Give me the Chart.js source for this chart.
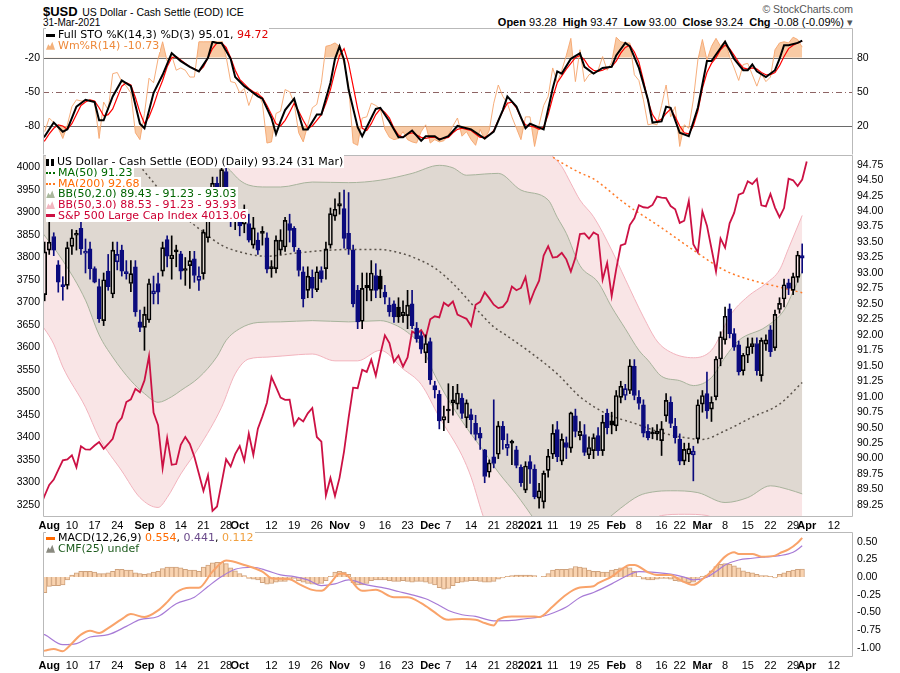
<!DOCTYPE html>
<html>
<head>
<meta charset="utf-8">
<title>$USD</title>
<script src="https://cdn.jsdelivr.net/npm/chart.js@4.4.1/dist/chart.umd.min.js"></script>
<style>
  body { margin:0; width:900px; height:673px; overflow:hidden; position:relative; background:#fff;
         font-family:"Liberation Sans", Arial, sans-serif; color:#000; }
  canvas { position:absolute; left:0; }
  .txt { position:absolute; white-space:nowrap; }
  .leg { position:absolute; left:46px; font-family:"DejaVu Sans", Verdana, sans-serif; font-size:11px; line-height:10.8px; white-space:nowrap; }
  .leg > div > span { background:#fff; padding-right:1px; }
  .ic { display:inline-block; width:9px; margin-right:3px; vertical-align:middle; }
  .bar { height:3px; }
  .dots { height:0; border-top:2px dotted; }
  .mtn { height:8px; clip-path:polygon(0 100%,25% 30%,45% 60%,70% 0,100% 100%); }
</style>
</head>
<body>

<div class="txt" style="left:43px;top:2px;"><b style="font-size:13px">$USD</b> <span style="font-size:10.5px">US Dollar - Cash Settle (EOD) ICE</span></div>
<div class="txt" style="left:43px;top:17px;font-size:10px;">31-Mar-2021</div>
<div class="txt" style="right:47px;top:3px;font-size:10.5px;color:#555;">© StockCharts.com</div>
<div class="txt" style="right:47px;top:16px;font-size:11px;"><b>Open</b> 93.28 &nbsp;<b>High</b> 93.47 &nbsp;<b>Low</b> 93.00 &nbsp;<b>Close</b> 93.24 &nbsp;<b>Chg</b> -0.08 (-0.09%) <span style="color:#555">▾</span></div>

<canvas id="sto" width="900" height="127" style="top:28px;width:900px;height:127px"></canvas>
<canvas id="main" width="900" height="377" style="top:155px;width:900px;height:377px"></canvas>
<canvas id="macd" width="900" height="141" style="top:532px;width:900px;height:141px"></canvas>

<div class="leg" style="top:30px;">
  <div><span><i class="ic bar" style="background:#000"></i>Full STO %K(14,3) %D(3) 95.01, <span style="color:#e00000">94.72</span></span></div>
  <div><span style="color:#ee8a3c"><i class="ic mtn" style="background:#f4b27c"></i>Wm%R(14) -10.73</span></div>
</div>

<div class="leg" style="top:157px;">
  <div><span><i class="ic" style="height:7px;width:2px;border-left:3px solid #000;border-right:3px solid #000;"></i>US Dollar - Cash Settle (EOD) (Daily) 93.24 (31 Mar)</span></div>
  <div><span style="color:#006a00"><i class="ic dots" style="border-color:#006a00"></i>MA(50) 91.23</span></div>
  <div><span style="color:#ff6a00"><i class="ic dots" style="border-color:#ff7a20"></i>MA(200) 92.68</span></div>
  <div><span style="color:#006400"><i class="ic mtn" style="background:#a9b89c"></i>BB(50,2.0) 89.43 - 91.23 - 93.03</span></div>
  <div><span style="color:#cc0033"><i class="ic mtn" style="background:#f2b5bf"></i>BB(50,3.0) 88.53 - 91.23 - 93.93</span></div>
  <div><span style="color:#cc0033"><i class="ic bar" style="background:#cc1144"></i>S&amp;P 500 Large Cap Index 4013.06</span></div>
</div>

<div class="leg" style="top:533px;">
  <div><span><i class="ic bar" style="background:#ff6a00"></i>MACD(12,26,9) <span style="color:#ff6a00">0.554</span>, <span style="color:#6a4a8a">0.441</span>, <span style="color:#f0a040">0.112</span></span></div>
  <div><span style="color:#1d5b1d"><i class="ic mtn" style="background:#8a8a80"></i>CMF(25) undef</span></div>
</div>

<script>
// x = trading day number: 0 = 3 Aug 2020 ... 166 = 31 Mar 2021
const tickPos = [0,5,10,15,21,25,29,34,39,42,49,54,59,64,69,74,79,84,88,93,98,102,106,111,116,120,125,130,135,139,144,149,154,159,164,167,173]
const tickLabels = ['Aug','10','17','24','Sep','8','14','21','28','Oct','12','19','26','Nov','9','16','23','Dec','7','14','21','28','2021','11','19','25','Feb','8','16','22','Mar','8','15','22','29','Apr','12']

const usdTicks = [89.25,89.5,89.75,90,90.25,90.5,90.75,91,91.25,91.5,91.75,92,92.25,92.5,92.75,93,93.25,93.5,93.75,94,94.25,94.5,94.75]
const spxTicks = [3250,3300,3350,3400,3450,3500,3550,3600,3650,3700,3750,3800,3850,3900,3950,4000]
const stoTicks = [20,50,80]
const wmTicks = [-80,-50,-20]
const macdTicks = [-1,-0.75,-0.5,-0.25,0,0.25,0.5]

// $USD daily candles, first value is day -1 (31 Jul)
const usdOpen = [
  92.65,93.37,93.59,93.13,92.80,92.80,93.43,93.61,93.72,93.32,
  93.39,93.07,92.78,92.23,93.03,92.66,93.18,93.37,93.02,92.83,
  93.10,92.21,92.12,92.24,92.66,92.83,93.03,93.54,93.23,93.34,
  93.31,93.07,93.12,93.23,92.88,92.99,93.57,94.02,94.45,94.34,
  94.64,94.18,93.89,93.88,93.79,93.80,93.45,93.53,93.66,93.57,
  93.10,93.07,93.37,93.42,93.80,93.72,93.37,93.02,92.72,92.93,
  92.73,93.04,93.07,93.45,93.92,94.08,94.04,93.64,93.37,92.72,
  92.22,92.80,92.72,92.96,92.95,92.69,92.48,92.50,92.45,92.31,
  92.31,92.50,92.11,91.99,91.71,91.89,91.18,91.04,90.62,90.77,
  90.90,90.88,90.98,90.66,90.71,90.57,90.41,90.14,89.78,90.03,
  90.07,90.52,90.17,90.25,90.14,89.86,89.49,89.95,89.83,89.36,
  89.30,89.81,90.07,90.47,89.96,90.26,90.17,90.69,90.37,90.39,
  90.06,90.13,90.37,90.13,90.73,90.61,90.53,90.99,91.02,91.10,
  91.49,90.99,90.87,90.44,90.41,90.40,90.29,90.69,90.91,90.52,
  90.31,89.96,90.07,90.06,90.32,90.88,91.05,90.80,91.00,91.61,
  91.92,92.42,92.02,91.84,91.42,91.67,91.81,91.86,91.34,91.85,
  92.08,91.79,92.41,92.58,92.84,92.72,92.93,93.28]
const usdHigh = [
  93.50,93.83,93.65,93.20,92.94,93.50,93.70,93.69,93.85,93.55,
  93.50,93.10,92.90,93.00,93.30,93.50,93.50,93.45,93.20,93.20,
  93.20,92.40,92.45,92.90,92.95,93.00,93.50,93.60,93.60,93.45,
  93.35,93.25,93.35,93.35,93.10,93.70,94.10,94.55,94.55,94.75,
  94.70,94.25,94.05,94.00,94.10,93.95,93.90,93.65,93.75,93.65,
  93.20,93.60,93.70,93.90,93.95,93.75,93.40,93.10,93.10,93.05,
  93.10,93.10,93.50,94.05,94.20,94.30,94.34,94.30,93.45,92.80,
  93.00,93.00,93.20,93.15,93.05,92.80,92.60,92.55,92.60,92.55,
  92.72,92.72,92.20,92.05,92.00,91.95,91.25,91.10,90.85,91.21,
  91.17,91.20,91.05,90.95,90.80,90.70,90.50,90.15,89.98,90.95,
  90.60,90.60,90.40,90.30,90.20,89.90,89.95,90.05,89.90,89.60,
  89.80,90.15,90.55,90.60,90.40,90.35,90.75,90.80,90.60,90.55,
  90.35,90.40,90.50,90.70,90.80,90.75,91.10,91.25,91.20,91.60,
  91.60,91.10,90.95,90.55,90.50,90.55,90.60,91.05,91.00,90.65,
  90.40,90.25,90.25,90.20,90.95,91.10,91.40,91.00,91.65,92.05,
  92.45,92.50,92.10,91.90,91.70,91.95,91.95,91.95,91.95,92.00,
  92.15,92.40,92.60,92.90,92.90,93.00,93.35,93.47]
const usdLow = [
  92.55,93.30,93.28,92.69,92.56,92.74,93.30,93.37,93.30,93.00,
  92.90,92.84,92.20,92.15,92.72,92.60,93.05,92.95,92.90,92.70,
  92.30,92.05,91.75,92.20,92.50,92.50,92.95,93.10,92.90,93.10,
  92.90,92.80,92.75,92.85,92.72,92.90,93.50,93.95,94.20,94.30,
  94.10,93.75,93.70,93.60,93.65,93.50,93.40,93.30,93.45,93.00,
  92.93,93.00,93.30,93.35,93.50,93.35,92.95,92.45,92.60,92.60,
  92.70,92.85,92.90,93.40,93.85,93.95,93.40,93.30,92.45,92.10,
  92.10,92.55,92.55,92.60,92.60,92.50,92.30,92.20,92.20,92.20,
  92.10,92.10,91.88,91.70,91.55,91.20,90.98,90.48,90.45,90.58,
  90.70,90.80,90.65,90.50,90.40,90.30,90.15,89.61,89.70,89.85,
  90.00,90.15,90.05,89.90,89.85,89.55,89.45,89.60,89.35,89.20,
  89.20,89.70,90.00,89.95,89.90,90.00,90.10,90.35,90.30,90.05,
  90.00,90.00,90.05,90.05,90.40,90.40,90.45,90.90,90.95,91.05,
  90.95,90.80,90.35,90.30,90.32,90.30,90.05,90.60,90.50,90.25,
  89.90,89.90,89.95,89.64,90.25,90.75,90.65,90.60,90.95,91.50,
  91.85,91.95,91.75,91.35,91.35,91.55,91.70,91.35,91.25,91.75,
  91.65,91.75,92.35,92.45,92.65,92.65,92.85,93.00]
const usdClose = [
  93.34,93.50,93.37,92.85,92.78,93.41,93.57,93.63,93.39,93.35,
  93.07,92.85,92.26,92.89,92.78,93.37,93.30,93.03,92.99,92.99,
  92.37,92.12,92.33,92.83,92.71,92.69,93.41,93.27,93.29,93.34,
  93.03,93.04,93.20,92.96,92.95,93.66,94.02,94.45,94.38,94.67,
  94.29,93.91,93.92,93.76,93.89,93.53,93.73,93.37,93.64,93.06,
  93.07,93.53,93.53,93.85,93.69,93.42,93.04,92.58,92.95,92.75,
  93.02,92.91,93.39,93.96,94.03,94.12,93.56,93.39,92.50,92.21,
  92.75,92.76,93.00,92.72,92.74,92.61,92.37,92.29,92.29,92.37,
  92.48,92.15,91.94,91.77,91.86,91.27,91.11,90.61,90.68,90.78,
  90.95,91.06,90.73,90.90,90.63,90.39,90.33,89.71,89.93,89.92,
  90.53,90.30,90.23,90.26,89.89,89.61,89.88,89.83,89.38,89.48,
  89.76,90.04,90.41,90.03,90.31,90.18,90.74,90.44,90.44,90.10,
  90.18,90.34,90.13,90.59,90.50,90.54,91.02,91.17,91.13,91.50,
  91.02,90.89,90.41,90.34,90.40,90.44,90.48,90.94,90.57,90.34,
  89.96,90.15,90.16,90.12,90.87,91.02,90.77,90.91,91.61,91.97,
  92.30,92.02,91.80,91.40,91.67,91.81,91.86,91.42,91.91,91.92,
  91.73,92.33,92.51,92.81,92.75,92.94,93.29,93.24]

// S&P 500 closes, first value is day -2 (30 Jul), last is 1 Apr
const spx = [
  3246.22,3271.12,3294.61,3306.51,3327.77,3349.16,3351.28,3360.47,3333.69,3380.35,
  3373.43,3372.85,3381.99,3389.78,3374.85,3385.51,3397.16,3431.28,3443.62,3478.73,
  3484.55,3508.01,3500.31,3526.65,3580.84,3455.06,3426.96,3331.84,3398.96,3339.19,
  3340.97,3383.54,3401.20,3385.49,3357.01,3319.47,3281.06,3315.57,3236.92,3246.59,
  3298.46,3351.60,3335.47,3363.00,3380.80,3348.42,3408.60,3360.97,3419.44,3446.83,
  3477.14,3534.22,3511.93,3488.67,3483.34,3483.81,3426.92,3443.12,3435.56,3453.49,
  3465.39,3400.97,3390.68,3271.03,3310.11,3269.96,3310.24,3369.16,3443.44,3510.45,
  3509.44,3550.50,3545.53,3572.66,3537.01,3585.15,3626.91,3609.53,3567.79,3581.87,
  3557.54,3577.59,3635.41,3629.65,3638.35,3621.63,3662.45,3669.01,3666.72,3699.12,
  3691.96,3702.25,3672.82,3668.10,3663.46,3647.49,3694.62,3701.17,3722.48,3709.41,
  3694.92,3687.26,3690.01,3703.06,3735.36,3727.04,3732.04,3756.07,3700.65,3726.86,
  3748.14,3803.79,3824.68,3799.61,3801.19,3809.84,3795.54,3768.25,3798.91,3851.85,
  3853.07,3841.47,3855.36,3849.62,3750.77,3787.38,3714.24,3773.86,3826.31,3830.17,
  3871.74,3886.83,3915.59,3911.23,3909.88,3916.38,3934.83,3932.59,3931.33,3913.97,
  3906.71,3876.50,3881.37,3925.43,3829.34,3811.15,3901.82,3870.29,3819.72,3768.47,
  3841.94,3821.35,3875.44,3898.81,3939.34,3943.34,3968.94,3962.71,3974.12,3915.46,
  3913.10,3940.59,3910.52,3889.14,3909.52,3974.54,3971.09,3958.55,3972.89,4013.06]

// overlays, [day, value]
const ma50 = [[10,95.5],[14,95.2],[18,94.9],[22,94.55],[26,94.2],[30,93.9],[34,93.66],[38,93.45],[42,93.34],[48,93.27],[54,93.32],[60,93.36],[66,93.38],[73,93.38],[77,93.33],[80,93.26],[85,93.08],[89,92.83],[94,92.43],[98,92.13],[101,91.98],[106,91.72],[112,91.37],[117,91.0],[123,90.72],[129,90.57],[135,90.42],[140,90.34],[144,90.31],[149,90.45],[155,90.67],[161,90.88],[166,91.23]]
const ma200 = [[100,95.4],[105,95.15],[110,94.92],[113,94.78],[117,94.62],[120,94.52],[127,94.12],[135,93.73],[142,93.37],[149,93.04],[157,92.84],[160,92.79],[166,92.68]]
const bb2Upper = [[-2,96.2],[30,95.4],[36,95.0],[38,94.8],[40,94.65],[42,94.5],[44,94.42],[48,94.39],[51,94.39],[58,94.47],[66,94.46],[73,94.5],[80,94.61],[86,94.74],[89,94.7],[92,94.58],[96,94.6],[99,94.61],[104,94.34],[110,94.18],[112,93.9],[114,93.64],[117,93.12],[121,92.85],[124,92.45],[127,92.1],[130,91.75],[132,91.59],[135,91.33],[139,91.26],[142,91.18],[146,91.31],[149,91.64],[152,91.91],[158,92.13],[162,92.4],[164,92.7],[166,93.03]]
const bb2Lower = [[-2,93.7],[3,93.2],[8,92.56],[11,92.0],[14,91.64],[18,91.26],[21,91.05],[24,90.91],[27,91.0],[29,91.1],[33,91.31],[37,91.65],[39,91.91],[42,92.1],[46,92.2],[51,92.21],[58,92.23],[66,92.21],[73,92.23],[76,92.17],[79,92.04],[82,91.82],[85,91.35],[88,90.95],[92,90.5],[96,90.1],[99,89.78],[103,89.42],[105,89.22],[107,89.02],[110,88.85],[115,88.78],[120,88.85],[123,89.02],[126,89.2],[130,89.4],[133,89.46],[137,89.48],[143,89.45],[149,89.29],[154,89.37],[159,89.56],[163,89.5],[166,89.43]]
const bb3Upper = [[-2,97.0],[60,96.0],[100,95.6],[106,95.2],[110,94.95],[113,94.72],[115,94.45],[117,94.18],[120,93.91],[124,93.37],[127,92.9],[131,92.29],[134,91.9],[137,91.72],[142,91.63],[146,91.75],[148,92.0],[150,92.3],[154,92.62],[158,92.83],[161,93.05],[163,93.4],[166,93.93]]
const bb3Lower = [[-2,92.2],[1,91.85],[3,91.48],[8,90.83],[11,90.34],[16,89.8],[20,89.37],[24,89.21],[26,89.37],[29,89.75],[33,90.18],[38,90.83],[41,91.37],[44,91.61],[48,91.64],[55,91.68],[58,91.69],[63,91.58],[68,91.58],[73,91.75],[78,91.45],[82,91.2],[86,90.67],[91,90.05],[93,89.7],[96,89.0],[100,88.4],[108,87.7],[118,87.6],[126,88.3],[131,88.85],[135,89.08],[140,89.1],[145,89.08],[150,88.8],[158,88.6],[166,88.53]]

// Full stochastics, %K as [day, value]; %D daily from day -2; Williams %R daily from day -1
const stoK = [[-2,8],[-1,11],[1,23],[3,15],[4,17],[6,37],[8,43],[10,41],[11,25],[12,25],[14,46],[16,60],[18,55],[20,22],[21,18],[23,49],[25,65],[27,84],[29,77],[31,72],[33,68],[35,80],[36,94],[37,93],[38,93],[40,79],[41,63],[43,55],[44,52],[46,46],[47,44],[49,27],[50,13],[51,24],[52,34],[54,44],[56,17],[57,17],[59,30],[60,30],[62,58],[63,79],[64,90],[65,78],[66,52],[68,19],[69,11],[71,27],[72,35],[73,36],[75,24],[77,10],[78,10],[80,16],[82,7],[83,11],[85,11],[86,8],[88,11],[90,20],[93,17],[96,9],[98,15],[100,34],[101,46],[103,37],[105,18],[106,22],[109,17],[111,53],[112,68],[113,66],[115,79],[117,84],[118,72],[120,66],[122,71],[124,72],[125,82],[127,93],[128,90],[130,71],[132,43],[133,23],[135,24],[136,37],[137,36],[139,14],[141,11],[143,36],[145,77],[146,77],[149,94],[151,79],[153,69],[154,69],[155,74],[156,68],[158,63],[160,69],[161,79],[162,91],[163,91],[165,93],[166,95.01]]
const stoD = [
  5,7,13,18,21,20,17,22,30,38,41,43,42,36,29,30,35,45,55,58,
  56,45,32,22,28,38,50,60,72,80,81,78,75,72,70,68,72,80,88,93,
  93,89,80,69,61,57,53,50,48,45,38,30,22,20,25,32,40,33,25,18,
  20,25,30,40,52,68,82,88,75,55,35,18,16,22,30,35,32,27,18,12,
  10,13,14,12,10,9,10,10,9,9,10,14,17,18,17,16,13,10,10,12,
  16,25,33,40,41,36,27,21,20,19,17,19,30,45,58,64,70,75,80,82,
  78,72,69,68,69,71,72,77,84,89,91,85,76,60,42,30,24,26,31,35,
  28,20,14,13,20,33,53,67,75,80,87,91,88,82,76,71,70,71,70,67,
  65,65,67,73,81,88,91,93,94.72]
const wmR = [
  -85,-73,-77,-82,-91,-79,-63,-57,-58,-58,-57,-59,-91,-59,-66,-34,-33,-41,-45,-51,
  -86,-92,-69,-38,-42,-21,-6,-23,-18,-31,-29,-31,-37,-37,-6,-6,-6,-6,-5,-4,
  -19,-41,-42,-51,-47,-62,-51,-50,-60,-95,-94,-69,-67,-48,-50,-60,-86,-94,-79,-64,
  -61,-42,-10,-9,-7,-10,-25,-44,-95,-97,-73,-72,-60,-62,-65,-83,-90,-92,-91,-85,
  -92,-94,-95,-85,-79,-95,-92,-94,-93,-88,-80,-73,-89,-85,-92,-97,-83,-92,-84,-60,
  -44,-54,-60,-72,-82,-92,-72,-72,-98,-79,-62,-54,-29,-42,-31,-18,-3,-41,-13,-41,
  -35,-33,-31,-19,-31,-24,-2,-6,-7,-7,-35,-40,-57,-79,-78,-79,-62,-44,-72,-63,
  -98,-79,-82,-57,-22,-4,-22,-10,-3,-10,-5,-19,-29,-40,-26,-25,-35,-45,-34,-41,
  -37,-13,-7,-6,-7,-2,-4,-10.73]

// MACD(12,26,9): lines as [day, value], histogram daily from day -1
const macdLine = [[-2,-1.05],[-1,-1.037],[1,-1.014],[3,-1.047],[4,-1.0],[7,-0.812],[9,-0.756],[11,-0.789],[13,-0.719],[16,-0.592],[18,-0.522],[21,-0.564],[24,-0.47],[26,-0.353],[28,-0.217],[31,-0.151],[33,-0.151],[36,0.078],[39,0.233],[43,0.172],[47,0.078],[49,-0.015],[53,-0.03],[55,-0.095],[58,-0.18],[60,-0.194],[62,-0.086],[64,0.046],[65,0.046],[68,-0.156],[69,-0.194],[72,-0.18],[76,-0.283],[79,-0.283],[82,-0.367],[85,-0.498],[87,-0.587],[88,-0.6],[91,-0.592],[94,-0.6],[96,-0.648],[98,-0.681],[99,-0.6],[102,-0.555],[103,-0.555],[107,-0.555],[108,-0.564],[111,-0.414],[113,-0.297],[115,-0.203],[117,-0.147],[120,-0.128],[121,-0.086],[124,0.008],[126,0.102],[128,0.172],[129,0.172],[132,0.069],[134,0.031],[137,0.031],[139,-0.039],[142,-0.109],[144,-0.03],[146,0.078],[149,0.289],[151,0.35],[152,0.327],[155,0.327],[157,0.289],[160,0.303],[161,0.336],[163,0.392],[165,0.486],[166,0.554]]
const macdSignal = [[-2,-0.79],[-1,-0.812],[3,-0.953],[6,-0.939],[9,-0.845],[13,-0.812],[17,-0.695],[20,-0.6],[24,-0.555],[28,-0.376],[32,-0.283],[35,-0.133],[38,0.008],[41,0.111],[45,0.139],[48,0.092],[51,0.031],[54,0.008],[57,-0.039],[60,-0.119],[63,-0.095],[66,-0.039],[70,-0.109],[74,-0.156],[77,-0.203],[80,-0.25],[83,-0.306],[86,-0.4],[88,-0.47],[91,-0.531],[94,-0.555],[98,-0.616],[102,-0.611],[105,-0.587],[108,-0.564],[110,-0.531],[114,-0.423],[117,-0.287],[120,-0.217],[124,-0.095],[127,0.008],[130,0.078],[134,0.064],[137,0.041],[140,-0.001],[142,-0.039],[145,-0.001],[147,0.078],[149,0.172],[152,0.242],[155,0.266],[158,0.285],[161,0.303],[164,0.35],[166,0.441]]
const macdHist = [
  -0.22,-0.13,-0.12,-0.12,-0.11,-0.04,0.03,0.06,0.08,0.08,0.08,0.07,0.05,0.05,0.06,0.08,0.11,0.11,0.10,0.10,
  0.06,0.05,0.04,0.05,0.07,0.08,0.12,0.14,0.14,0.14,0.13,0.11,0.10,0.10,0.08,0.14,0.17,0.20,0.21,0.21,
  0.19,0.13,0.09,0.05,0.02,-0.02,-0.03,-0.04,-0.08,-0.10,-0.09,-0.07,-0.06,-0.06,-0.04,-0.02,-0.05,-0.07,-0.09,-0.10,
  -0.10,-0.09,-0.05,0.01,0.07,0.08,0.07,0.04,-0.08,-0.11,-0.11,-0.09,-0.05,-0.04,-0.04,-0.04,-0.05,-0.06,-0.06,-0.05,
  -0.06,-0.07,-0.06,-0.06,-0.07,-0.09,-0.11,-0.15,-0.17,-0.16,-0.12,-0.08,-0.07,-0.06,-0.05,-0.05,-0.06,-0.07,-0.07,-0.06,
  -0.03,-0.01,0.01,0.02,0.03,0.03,0.03,0.03,0.02,0.00,0.01,0.05,0.10,0.11,0.11,0.11,0.12,0.15,0.14,0.13,
  0.10,0.08,0.08,0.07,0.07,0.10,0.11,0.13,0.14,0.13,0.08,0.01,-0.03,-0.04,-0.04,-0.03,-0.02,-0.02,-0.03,-0.05,
  -0.06,-0.07,-0.08,-0.07,-0.02,0.01,0.03,0.09,0.15,0.18,0.19,0.18,0.16,0.13,0.09,0.07,0.06,0.04,0.02,0.02,
  0.01,-0.01,0.04,0.06,0.08,0.10,0.11,0.112]

const FONT = '"Liberation Sans", Arial, sans-serif'
const xMin = -1.37, xMax = 177.2

const pts = (arr, start) => arr.map((v, k) => ({ x: start + k, y: v }))
const pairs = arr => arr.map(p => ({ x: p[0], y: p[1] }))

// grey box round each panel; 'open' leaves the bottom edge off
const frame = {
  id: 'frame',
  afterDraw(chart, args, opts) {
    const { ctx, chartArea: a } = chart
    const l = a.left + 0.5, r = a.right - 0.5, t = a.top + 0.5, b = a.bottom - 0.5
    ctx.save()
    ctx.strokeStyle = '#b9b9b9'
    ctx.lineWidth = 1
    ctx.beginPath()
    ctx.moveTo(l, b); ctx.lineTo(l, t); ctx.lineTo(r, t); ctx.lineTo(r, b)
    if (!opts.open) ctx.lineTo(l, b)
    ctx.stroke()
    ctx.restore()
  }
}

// 80 / 50 / 20 levels of the stochastic panel
const stoGrid = {
  id: 'stoGrid',
  beforeDatasetsDraw(chart) {
    const { ctx, chartArea: a, scales: { y } } = chart
    ctx.save()
    ctx.lineWidth = 1
    for (const v of stoTicks) {
      const py = Math.round(y.getPixelForValue(v)) + 0.5
      ctx.strokeStyle = v === 50 ? '#8e6464' : '#6a6a6a'
      ctx.setLineDash(v === 50 ? [6, 3, 1, 3] : [])
      ctx.beginPath(); ctx.moveTo(a.left, py); ctx.lineTo(a.right, py); ctx.stroke()
    }
    ctx.restore()
  }
}

function noPad(s) { s.paddingTop = 0; s.paddingBottom = 0; s.paddingLeft = 0; s.paddingRight = 0 }

function yAxis(pos, min, max, ticks, fmt, width) {
  return {
    position: pos, min: min, max: max,
    grid: { display: false, drawTicks: false }, border: { display: false },
    afterBuildTicks: s => { s.ticks = ticks.map(v => ({ value: v })) },
    afterFit: s => { s.width = width; noPad(s) },
    ticks: { padding: pos === 'left' ? 3 : 4, color: '#000', font: { family: FONT, size: 10.5 }, callback: fmt }
  }
}

function xAxis(show, h) {
  return {
    type: 'linear', min: xMin, max: xMax, offset: false, display: show,
    grid: { display: false, drawTicks: false }, border: { display: false },
    afterBuildTicks: s => { s.ticks = tickPos.map(v => ({ value: v })) },
    afterFit: s => { s.height = h; noPad(s) },
    ticks: {
      autoSkip: false, maxRotation: 0, padding: 2, color: '#000',
      font: c => ({ family: FONT, size: 11, weight: /[A-Za-z]|2021/.test(tickLabels[c.index]) ? 'bold' : 'normal' }),
      callback: (v, i) => tickLabels[i]
    }
  }
}

const base = {
  animation: false, responsive: false, events: [],
  layout: { padding: 0 },
  elements: { point: { radius: 0 }, line: { tension: 0 } },
}

// ---- stochastics / Williams %R
const wmFill = 'rgba(247,184,134,0.75)'
new Chart(document.getElementById('sto'), {
  type: 'line',
  data: { datasets: [
    { data: pairs(stoK), borderColor: '#000', borderWidth: 2, yAxisID: 'y', order: 0 },
    { data: pts(stoD, -2), borderColor: '#ff0000', borderWidth: 1.2, yAxisID: 'y', order: 1 },
    { data: pts(wmR, -1), borderColor: 'rgba(245,165,110,0.9)', borderWidth: 1, yAxisID: 'yW', order: 2,
      fill: { target: { value: -20 }, above: wmFill, below: 'rgba(0,0,0,0)' } },
    { data: pts(wmR, -1), borderWidth: 0, borderColor: 'rgba(0,0,0,0)', yAxisID: 'yW', order: 3,
      fill: { target: { value: -80 }, above: 'rgba(0,0,0,0)', below: wmFill } },
  ]},
  options: Object.assign({}, base, {
    plugins: { legend: { display: false }, tooltip: { enabled: false }, frame: { open: true } },
    scales: {
      x: xAxis(false, 0),
      y: yAxis('right', -5.5, 106.1, stoTicks, v => String(v), 47),
      yW: yAxis('left', -105.5, 6.1, wmTicks, v => String(v), 43),
    }
  }),
  plugins: [frame, stoGrid]
})

// ---- price panel
const navy = '#0b0b7d'
const candleCol = usdClose.map((c, k) => (k > 0 && c < usdClose[k - 1]) ? navy : '#000')
const candleFill = usdClose.map((c, k) => c >= usdOpen[k] ? 'rgba(0,0,0,0)' : candleCol[k])
const day = k => k - 1
const wickHi = usdClose.map((c, k) => ({ x: day(k), y: [Math.max(usdOpen[k], c), usdHigh[k]] }))
const wickLo = usdClose.map((c, k) => ({ x: day(k), y: [usdLow[k], Math.min(usdOpen[k], c)] }))
const bodies = usdClose.map((c, k) => ({ x: day(k), y: [usdOpen[k], c] }))
const smooth = { cubicInterpolationMode: 'monotone', yAxisID: 'y' }

new Chart(document.getElementById('main'), {
  type: 'line',
  data: { datasets: [
    Object.assign({ data: pairs(bb3Upper), borderColor: '#f2b3bd', borderWidth: 1, fill: '+1', backgroundColor: '#f9e5e6', order: 10 }, smooth),
    Object.assign({ data: pairs(bb3Lower), borderColor: '#f2b3bd', borderWidth: 1, order: 9 }, smooth),
    Object.assign({ data: pairs(bb2Upper), borderColor: '#a8b39c', borderWidth: 1, fill: '+1', backgroundColor: '#dfd8d1', order: 8 }, smooth),
    Object.assign({ data: pairs(bb2Lower), borderColor: '#a8b39c', borderWidth: 1, order: 7 }, smooth),
    Object.assign({ data: pairs(ma200), borderColor: '#ff7a28', borderWidth: 1.5, borderDash: [2, 3], order: 6 }, smooth),
    Object.assign({ data: pairs(ma50), borderColor: '#5a524a', borderWidth: 1.5, borderDash: [2, 3], order: 5 }, smooth),
    { data: pts(spx, -2), borderColor: '#cc1144', borderWidth: 1.8, yAxisID: 'yS', order: 4 },
    { type: 'bar', data: wickHi, backgroundColor: candleCol, barThickness: 1, grouped: false, yAxisID: 'y', order: 3 },
    { type: 'bar', data: wickLo, backgroundColor: candleCol, barThickness: 1, grouped: false, yAxisID: 'y', order: 3 },
    { type: 'bar', data: bodies, backgroundColor: candleFill, borderColor: candleCol, borderWidth: 1,
      borderSkipped: false, barThickness: 4, minBarLength: 2, grouped: false, yAxisID: 'y', order: 1 },
  ]},
  options: Object.assign({}, base, {
    plugins: { legend: { display: false }, tooltip: { enabled: false }, frame: {} },
    scales: {
      x: xAxis(true, 15),
      y: yAxis('right', 89.056, 94.907, usdTicks, v => v.toFixed(2), 47),
      yS: yAxis('left', 3223.3, 4027.3, spxTicks, v => String(v), 43),
    }
  }),
  plugins: [frame]
})

// ---- MACD panel
new Chart(document.getElementById('macd'), {
  type: 'line',
  data: { datasets: [
    { type: 'bar', data: pts(macdHist, -1), backgroundColor: '#f9d3b0', borderColor: '#cfa27c', borderWidth: 1,
      barThickness: 4.5, grouped: false, order: 3 },
    { data: pairs(macdSignal), borderColor: '#a77bd6', borderWidth: 1.2, cubicInterpolationMode: 'monotone', order: 2 },
    { data: pairs(macdLine), borderColor: '#f9a36a', borderWidth: 2, cubicInterpolationMode: 'monotone', order: 1 },
  ]},
  options: Object.assign({}, base, {
    layout: { padding: { left: 43 } },
    plugins: { legend: { display: false }, tooltip: { enabled: false }, frame: {} },
    scales: {
      x: xAxis(true, 16),
      y: yAxis('right', -1.127, 0.6365, macdTicks, v => v.toFixed(2), 47),
    }
  }),
  plugins: [frame]
})
</script>
</body>
</html>
